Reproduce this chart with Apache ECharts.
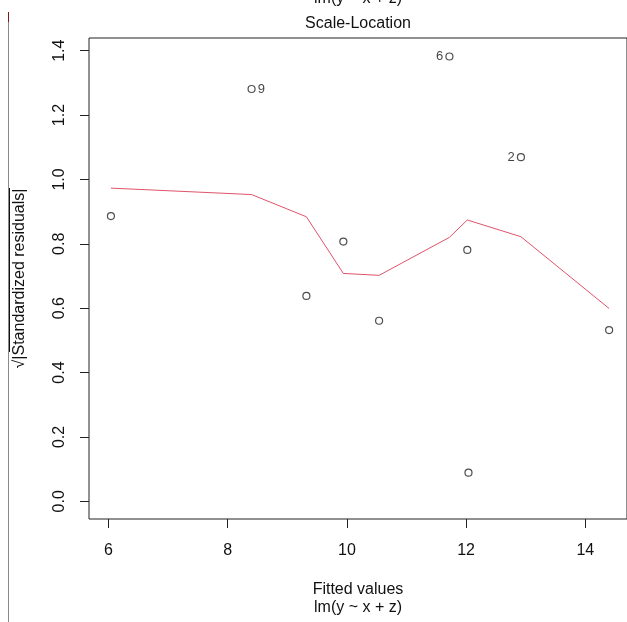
<!DOCTYPE html>
<html>
<head>
<meta charset="utf-8">
<script src="https://cdn.jsdelivr.net/npm/echarts@6/dist/echarts.min.js"></script>
<style>html,body{margin:0;padding:0;background:#fff}#c{width:627px;height:622px}</style>
</head>
<body>
<div id="c"></div>
<script>
// Data
const fittedValues = [6.04, 8.40, 9.32, 9.94, 10.54, 11.72, 12.02, 12.04, 12.92, 14.40];
const sqrtStdResiduals = [0.886, 1.281, 0.638, 0.807, 0.561, 1.382, 0.781, 0.089, 1.069, 0.532];
const smoothValues = [0.973, 0.953, 0.884, 0.708, 0.702, 0.820, 0.874, 0.874, 0.822, 0.599];
const pointIds = ['', '9', '', '', '', '6', '', '', '2', ''];
const xTicks = [6, 8, 10, 12, 14];
const yTicks = [0.0, 0.2, 0.4, 0.6, 0.8, 1.0, 1.2, 1.4];

const FONT = 'Liberation Sans, Arial, sans-serif';
const chart = echarts.init(document.getElementById('c'), null, {renderer: 'canvas'});

const pointData = fittedValues.map((x, i) => {
  const d = {value: [x, sqrtStdResiduals[i]]};
  if (pointIds[i]) {
    d.label = {
      show: true,
      formatter: pointIds[i],
      position: x > 10.2 ? 'left' : 'right',
      distance: 2,
      fontSize: 13,
      fontFamily: FONT,
      color: '#111'
    };
  }
  return d;
});
const smoothData = fittedValues.map((x, i) => [x, smoothValues[i]]);

chart.setOption({
  animation: false,
  backgroundColor: '#fff',
  grid: {left: 89, top: 38, width: 540, height: 481, show: true, borderColor: '#222', borderWidth: 1, containLabel: false},
  xAxis: {
    type: 'value', min: 5.672, max: 14.70,
    position: 'bottom',
    axisLine: {show: false, onZero: false},
    splitLine: {show: false},
    axisTick: {show: true, inside: false, length: 9, customValues: xTicks, lineStyle: {color: '#222'}},
    axisLabel: {show: true, customValues: xTicks, margin: 24, fontSize: 16, fontFamily: FONT, color: '#111',
      formatter: v => String(v)}
  },
  yAxis: {
    type: 'value', min: -0.055, max: 1.4394,
    position: 'left',
    axisLine: {show: false, onZero: false},
    splitLine: {show: false},
    axisTick: {show: true, inside: false, length: 9, customValues: yTicks, lineStyle: {color: '#222'}},
    axisLabel: {show: true, customValues: yTicks, rotate: 90, margin: 21, fontSize: 16, fontFamily: FONT, color: '#111',
      formatter: v => v.toFixed(1)},
    name: '√|Standardized residuals|',
    nameLocation: 'middle',
    nameRotate: 90,
    nameGap: 61,
    nameTextStyle: {fontSize: 16, fontFamily: FONT, color: '#111'}
  },
  series: [
    {
      type: 'line', data: smoothData, showSymbol: false, symbol: 'none',
      lineStyle: {color: '#DF536B', width: 1}, z: 2, silent: true
    },
    {
      type: 'scatter', data: pointData, symbol: 'circle', symbolSize: 7,
      itemStyle: {color: 'rgba(0,0,0,0)', borderColor: '#222', borderWidth: 1.2}, z: 3
    }
  ],
  graphic: [
    {type: 'text', x: 358, y: -1, style: {text: 'lm(y ~ x + z)', align: 'center', verticalAlign: 'middle', fontSize: 16, fontFamily: FONT, fill: '#111'}},
    {type: 'text', x: 358, y: 24, style: {text: 'Scale-Location', align: 'center', verticalAlign: 'middle', fontSize: 16, fontFamily: FONT, fill: '#111'}},
    {type: 'text', x: 358, y: 590, style: {text: 'Fitted values', align: 'center', verticalAlign: 'middle', fontSize: 16, fontFamily: FONT, fill: '#111'}},
    {type: 'text', x: 358, y: 608, style: {text: 'lm(y ~ x + z)', align: 'center', verticalAlign: 'middle', fontSize: 16, fontFamily: FONT, fill: '#111'}},
    {type: 'line', shape: {x1: 8.5, y1: 12, x2: 8.5, y2: 622}, style: {stroke: '#8a8a8a', lineWidth: 1}},
    {type: 'line', shape: {x1: 8.5, y1: 12, x2: 8.5, y2: 22}, style: {stroke: '#7a1a1a', lineWidth: 1}},
    {type: 'line', shape: {x1: 9.5, y1: 188, x2: 9.5, y2: 352}, style: {stroke: '#111', lineWidth: 1}}
  ]
});
</script>
</body>
</html>
